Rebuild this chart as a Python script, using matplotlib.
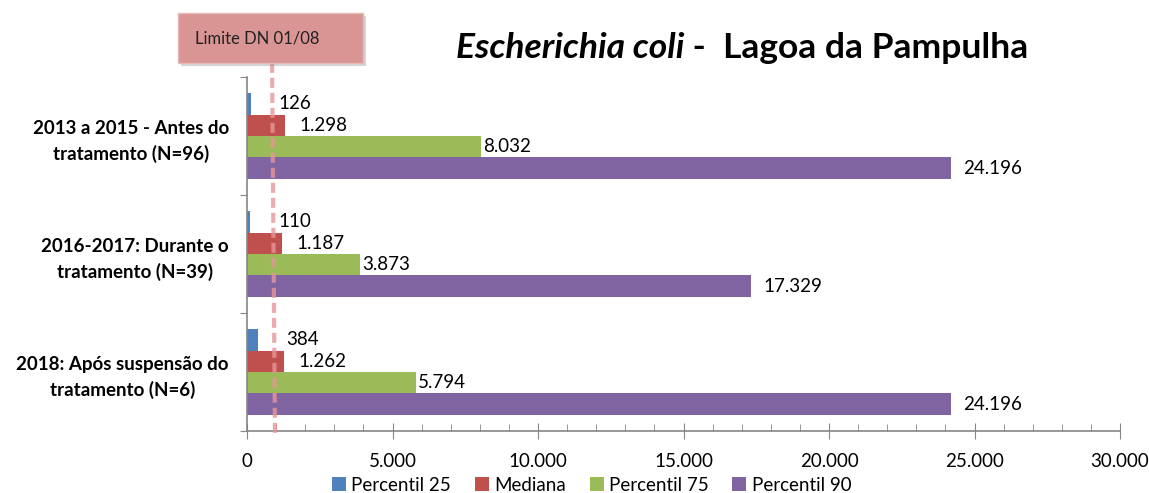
import matplotlib
matplotlib.use("Agg")
import matplotlib.pyplot as plt
from matplotlib.patches import FancyBboxPatch
import numpy as np

plt.rcParams['font.family'] = ['Lato', 'DejaVu Sans']

periods = ["2013 a 2015 - Antes do\ntratamento (N=96)",
           "2016-2017: Durante o\ntratamento (N=39)",
           "2018: Após suspensão do\ntratamento (N=6)"]
series_names = ["Percentil 25", "Mediana", "Percentil 75", "Percentil 90"]
p25 = [126, 110, 384]
mediana = [1298, 1187, 1262]
p75 = [8032, 3873, 5794]
p90 = [24196, 17329, 24196]
limite = 1000
x_ticks = [0, 5000, 10000, 15000, 20000, 25000, 30000]

colors = ["#4F81BD", "#C0504D", "#9BBB59", "#8064A2"]
label_pad_px = [28, 15, 2, 12]


def fmt(v):
    return f"{v:,}".replace(",", ".")


fig = plt.figure(figsize=(11.49, 4.93), dpi=100)
ax = fig.add_axes([0.2150, 0.1258, 0.7598, 0.7180])

ypos = np.arange(len(periods))[::-1]
h = 1 / 5.5
offsets = [1.5 * h, 0.5 * h, -0.5 * h, -1.5 * h]
data = [p25, mediana, p75, p90]

for vals, off, col, name, pad in zip(data, offsets, colors, series_names, label_pad_px):
    ax.barh(ypos + off, vals, height=h, color=col, label=name, zorder=2)
    for y, v in zip(ypos + off, vals):
        ax.annotate(fmt(v), (v, y), xytext=(pad * 0.72, 0), textcoords="offset points",
                    ha="left", va="center", fontsize=13.5, color="black", zorder=4)

ax.set_xlim(0, 30000)
ax.set_ylim(-0.5, 2.5)
ax.set_xticks(x_ticks)
ax.set_xticklabels([fmt(v) for v in x_ticks], fontsize=13.5)
ax.set_xticks(np.arange(0, 30001, 1000), minor=True)

ax.set_yticks([-0.5, 0.5, 1.5, 2.5])
ax.set_yticklabels([])
ax.set_yticks(ypos, minor=True)
ax.set_yticklabels(periods, minor=True, fontsize=13.5, fontweight="bold",
                   multialignment="center", linespacing=1.55)

ax.tick_params(axis="x", which="major", direction="inout", length=11, color="#868686", pad=10)
ax.tick_params(axis="x", which="minor", direction="in", length=5, color="#868686")
ax.tick_params(axis="y", which="major", direction="out", length=5, color="#868686")
ax.tick_params(axis="y", which="minor", length=0, pad=13)

for s in ["top", "right"]:
    ax.spines[s].set_visible(False)
for s in ["left", "bottom"]:
    ax.spines[s].set_color("#868686")
    ax.spines[s].set_linewidth(1.2)

# limit line, slightly slanted like a hand-drawn connector
ax.plot([limite * 0.86, limite * 0.96], [2.62, -0.53], color="#E6959A", alpha=0.8,
        lw=3.0, ls=(0, (2.4, 1.2)), clip_on=False, zorder=3, solid_capstyle="butt")

# label box for the limit
bx, by, bw, bh = 178 / 1149, 1 - 63 / 493, 185 / 1149, 50 / 493
shadow = FancyBboxPatch((bx + 3 / 1149, by - 3 / 493), bw, bh, boxstyle="square,pad=0",
                        transform=fig.transFigure, facecolor="#888888", alpha=0.35,
                        edgecolor="none", zorder=1)
box = FancyBboxPatch((bx, by), bw, bh, boxstyle="square,pad=0", transform=fig.transFigure,
                     facecolor="#D99594", edgecolor="#E6B9B8", lw=1, zorder=2)
fig.patches.extend([shadow, box])
fig.text(bx + 17 / 1149, by + bh / 2, "Limite DN 01/08", ha="left", va="center",
         fontsize=12, color="#222222", zorder=3)

t1 = fig.text(456 / 1149, 1 - 48 / 493, "Escherichia coli", fontsize=25.5, fontstyle="italic",
              fontweight="bold", ha="left", va="center")
ax.annotate(" -  Lagoa da Pampulha", xy=(1, 0.5), xycoords=t1, ha="left", va="center",
            fontsize=25.5, fontweight="bold", annotation_clip=False)

ax.legend(loc="center", bbox_to_anchor=(0.515, 0.016), bbox_transform=fig.transFigure,
          ncol=4, frameon=False, fontsize=13.5, handlelength=0.75, handleheight=0.75,
          handletextpad=0.3, columnspacing=1.25, borderpad=0)

fig.savefig("out.png", dpi=100)
